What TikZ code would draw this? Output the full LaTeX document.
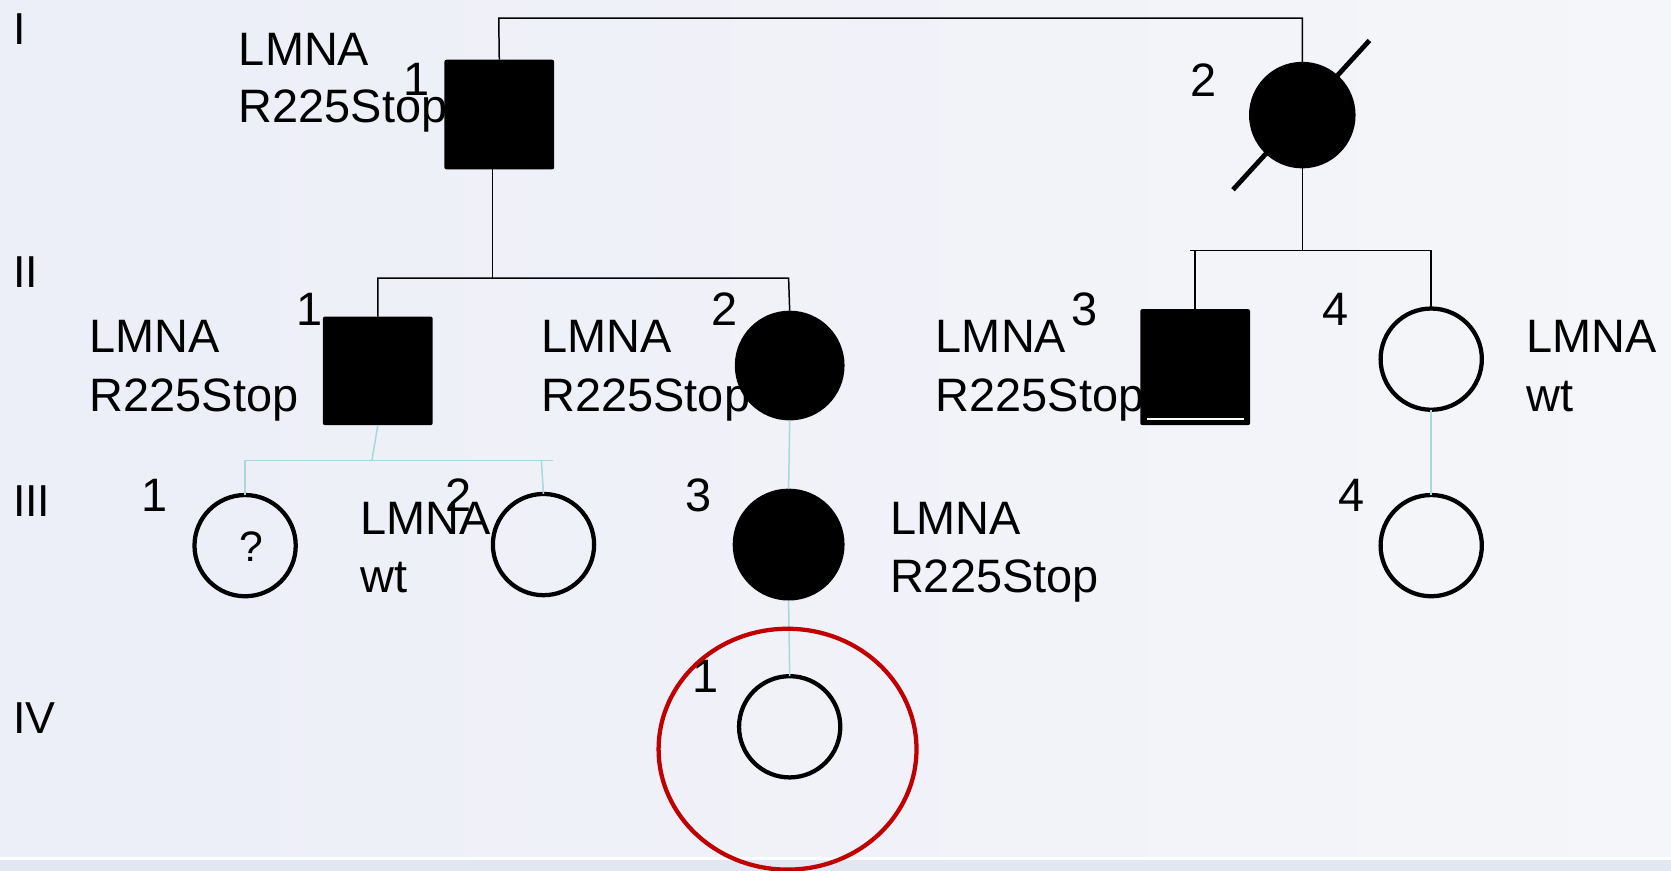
\documentclass[tikz,border=0pt]{standalone}
\usepackage{fontspec}
\setmainfont{Liberation Sans}
\definecolor{bgL}{HTML}{ECEEF8}
\definecolor{bgR}{HTML}{F5F6F9}
\definecolor{bandc}{HTML}{E3E7F1}
\definecolor{lineblue}{HTML}{A8D8DC}
\definecolor{ringred}{HTML}{C00000}
\begin{document}
\begin{tikzpicture}[x=1pt,y=-1pt,
  txt/.style={anchor=base west,inner sep=0pt,font=\fontsize{44}{44}\selectfont},
  gen/.style={anchor=base west,inner sep=0pt,font=\fontsize{42}{42}\selectfont},
  sqA/.style={rectangle,fill=black,rounded corners=2pt,inner sep=0pt,outer sep=0pt,minimum width=103pt},
  circA/.style={circle,fill=black,inner sep=0pt,outer sep=0pt},
  circO/.style={circle,draw=black,line width=4pt,inner sep=0pt,outer sep=0pt,minimum size=95pt},
  link/.style={line width=1.4pt,black},
  child/.style={line width=1.4pt,lineblue}]
\useasboundingbox (0,0) rectangle (1568,817);
\fill[left color=bgL,right color=bgR] (0,0) rectangle (1568,817);
\fill[bandc] (0,807) rectangle (1568,817);
\draw[white,line width=3pt] (0,805.5) -- (1568,805.5);

% generation labels
\node[gen] (gI) at (12,42) {I};
\node[gen] (gII) at (12,270) {II};
\node[gen] (gIII) at (12,485) {III};
\node[gen] (gIV) at (12,688) {IV};

% texts
\node[txt] (t11a) at (224,61) {LMNA};
\node[txt] (t11b) at (224,115) {R225Stop};
\node[txt] (n11) at (378,90) {1};
\node[txt] (n12) at (1117,91) {2};

\node[txt] (t21a) at (84,331) {LMNA};
\node[txt] (t21b) at (84,386) {R225Stop};
\node[txt] (n21) at (278,305) {1};
\node[txt] (t22a) at (508,331) {LMNA};
\node[txt] (t22b) at (508,386) {R225Stop};
\node[txt] (n22) at (667,305) {2};
\node[txt] (t23a) at (878,331) {LMNA};
\node[txt] (t23b) at (878,386) {R225Stop};
\node[txt] (n23) at (1005,305) {3};
\node[txt] (n24) at (1241,305) {4};
\node[txt] (t24a) at (1432,331) {LMNA};
\node[txt] (t24b) at (1432,386) {wt};

\node[txt] (n31) at (133,480) {1};
\node[txt] (t32a) at (338,502) {LMNA};
\node[txt] (t32b) at (338,556) {wt};
\node[txt] (n32) at (418,480) {2};
\node[txt] (n33) at (643,480) {3};
\node[txt] (t33a) at (835,502) {LMNA};
\node[txt] (t33b) at (835,556) {R225Stop};
\node[txt] (n34) at (1256,480) {4};
\node[txt] (n41) at (650,650) {1};

% symbols
\node[sqA,minimum height=103pt] (I1) at (468.5,107.5) {};
\draw[line width=4.5pt] (1157,178) -- (1285,38);
\node[circA,minimum size=100pt] (I2) at (1222,108) {};
\node[sqA,minimum height=102pt] (II1) at (354.5,348) {};
\node[circA,minimum size=103pt] (II2) at (741,343) {};
\node[sqA,minimum height=109pt] (II3) at (1121.5,344.5) {};
\draw[white,line width=1.5pt] (1076,393) -- (1167,393);
\node[circO] (II4) at (1343,337) {};
\node[circO] (III1) at (230,512) {};
\node[inner sep=0pt,font=\fontsize{40}{40}\selectfont] (q) at (236,513) {?};
\node[circO] (III2) at (510,511) {};
\node[circA,minimum size=105pt] (III3) at (740,511) {};
\node[circO] (III4) at (1343,512) {};
\node[circO] (IV1) at (741,682) {};

% connectors generation I
\coordinate (m1) at (468,17);
\draw[link] (I1.north) -- (m1) -| (I2.north);
\coordinate (d1) at (462,159);
\coordinate (s1) at (462,261);
\draw[link] (d1) -- (s1);
\coordinate (s1b) at (740,261);
\draw[link] (II1.north) |- (s1b) -- (II2.north);
\coordinate (s2) at (1117,235);
\draw[link] (I2.south) -- (I2.south |- s2);
\draw[link] (s2) -| (II4.north);
\draw[link] (II3.north) -- (II3.north |- s2);

% connectors generation II -> III
\coordinate (s3a) at (230,432);
\coordinate (s3b) at (519,432);
\coordinate (s3c) at (349,432);
\coordinate (s3d) at (508,432);
\draw[child] (II1.south) -- (s3c);
\draw[child] (s3a) -- (s3b);
\draw[child] (s3a) -- (III1.north);
\draw[child] (s3d) -- (III2.north);
\draw[child] (II2.south) -- (III3.north);
\draw[child] (II4.south) -- (III4.north);
\draw[child] (III3.south) -- (IV1.north);

% highlight ring
\draw[ringred,line width=4pt] (739,703) ellipse [x radius=121,y radius=113];
\end{tikzpicture}
\end{document}
